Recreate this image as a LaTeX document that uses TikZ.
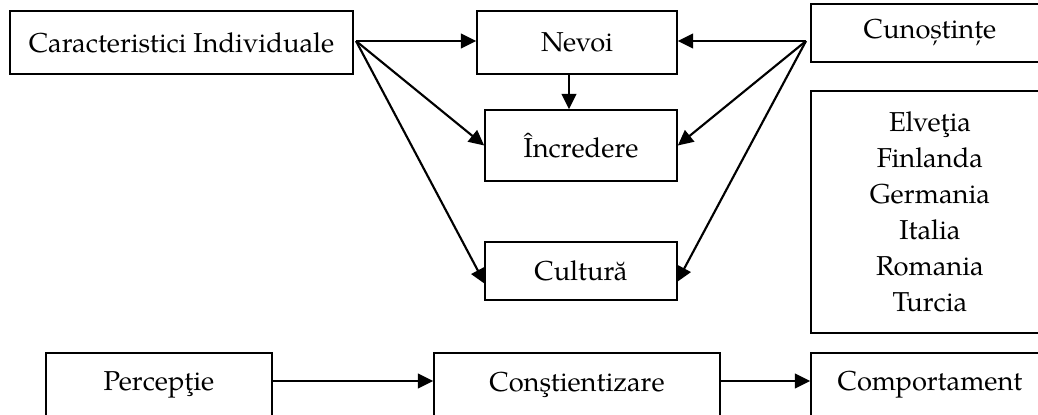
\documentclass[tikz,border=0pt]{standalone}
\usepackage{fontspec}
\setmainfont{texgyrepagella-regular.otf}
\usetikzlibrary{arrows.meta}
\begin{document}
\begin{tikzpicture}[x=0.75pt,y=-0.75pt,
  box/.style={draw, line width=1.2pt, inner sep=0pt, align=center,
    font=\fontsize{20.5}{27}\selectfont},
  arr/.style={line width=1.6pt, -{Triangle[length=11.5pt,width=11pt]}}]
\useasboundingbox (0,0) rectangle (1038,414);
\node[box, minimum width=257.25pt, minimum height=47.25pt] (car) at (181.5,42.5) {Caracteristici Individuale};
\node[box, minimum width=150pt, minimum height=47.25pt] (nev) at (577,42.5) {Nevoi};
\node[box, minimum width=144pt, minimum height=53.25pt] (inc) at (581,145.5) {Încredere};
\node[box, minimum width=144pt, minimum height=43.5pt] (cul) at (581,271) {Cultură};
\node[box, minimum width=178.5pt, minimum height=43.5pt] (cun) at (930,33) {Cunoștințe};
\node[box, minimum width=178.5pt, minimum height=181.5pt] (ctr) at (930,212) {Elveţia\\Finlanda\\Germania\\Italia\\Romania\\Turcia};
\node[box, minimum width=169.5pt, minimum height=47.25pt] (per) at (159,384.5) {Percepţie};
\node[box, minimum width=214.5pt, minimum height=47.25pt] (con) at (577,384.5) {Conştientizare};
\node[box, minimum width=178.5pt, minimum height=47.25pt] (com) at (930,384.5) {Comportament};
\coordinate (cl) at (356,41);
\coordinate (cr) at (806,41);
\coordinate (culL) at (485,284);
\coordinate (culR) at (677,282);
\coordinate (dn) at (569,0);
\coordinate (ay) at (0,381);
\draw[arr] (cl) -- (nev.west |- cl);
\draw[arr] (cl) -- (inc.west);
\draw[arr] (cl) -- (culL);
\draw[arr] (cr) -- (nev.east |- cr);
\draw[arr] (cr) -- (inc.east);
\draw[arr] (cr) -- (culR);
\draw[arr] (nev.south -| dn) -- (inc.north -| dn);
\draw[arr] (per.east |- ay) -- (con.west |- ay);
\draw[arr] (con.east |- ay) -- (com.west |- ay);
\end{tikzpicture}
\end{document}
